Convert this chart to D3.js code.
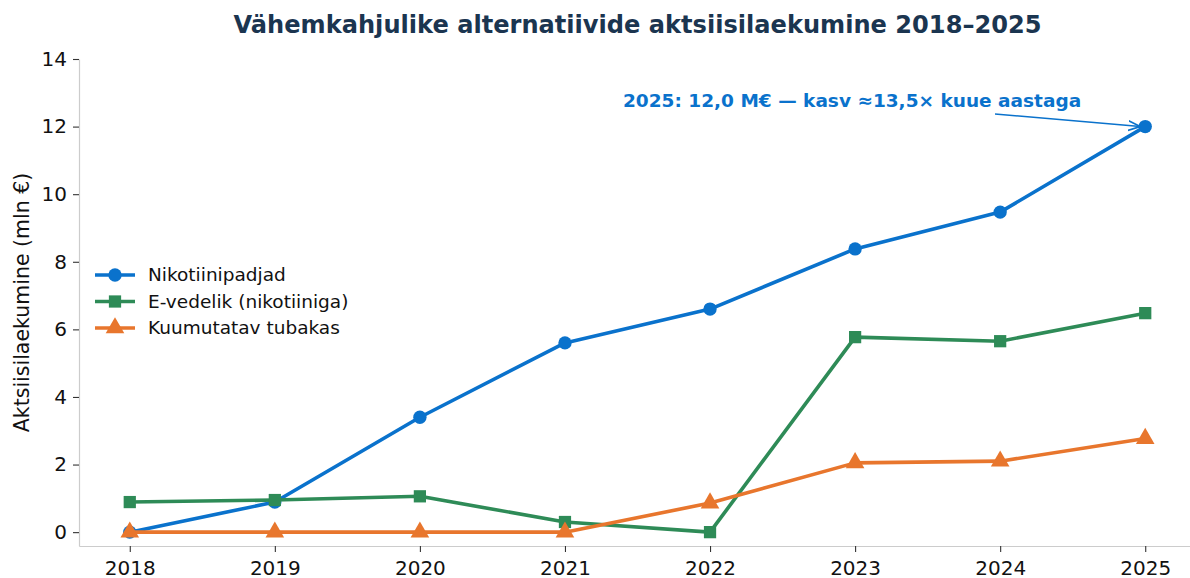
<!DOCTYPE html>
<html>
<head>
<meta charset="utf-8">
<script src="https://cdn.jsdelivr.net/npm/d3@7/dist/d3.min.js"></script>
<style>
  html, body { margin: 0; padding: 0; background: #fff; }
  svg { display: block; font-family: "DejaVu Sans", sans-serif; }
</style>
</head>
<body>
<svg id="chart" width="1190" height="578"></svg>
<script>
const years = [2018, 2019, 2020, 2021, 2022, 2023, 2024, 2025];
const seriesNames = ["Nikotiinipadjad", "E-vedelik (nikotiiniga)", "Kuumutatav tubakas"];
const nikotiinipadjad = [0.0, 0.89, 3.40, 5.60, 6.60, 8.38, 9.47, 12.0];
const eVedelik = [0.89, 0.95, 1.06, 0.30, 0.0, 5.77, 5.65, 6.48];
const kuumutatav = [0.0, 0.0, 0.0, 0.0, 0.86, 2.05, 2.10, 2.77];
const yTicks = [0, 2, 4, 6, 8, 10, 12, 14];
const titleText = "Vähemkahjulike alternatiivide aktsiisilaekumine 2018–2025";
const yLabelText = "Aktsiisilaekumine (mln €)";
const annotationText = "2025: 12,0 M€ — kasv ≈13,5× kuue aastaga";

const colors = ["#0a72cc", "#2e8b57", "#e8762d"];
const symbols = [d3.symbolCircle, d3.symbolSquare, d3.symbolTriangle];
const symSizes = [140, 150, 150];

const svg = d3.select("#chart");
const mLeft = 79, mRight = 1196, mTop = 59, mBottom = 546;

const x = d3.scaleLinear().domain([2017.65, 2025.35]).range([mLeft, mRight]);
const y = d3.scaleLinear().domain([-0.41, 14]).range([mBottom, mTop]);

// defs for arrow
svg.append("defs").append("marker")
  .attr("id", "arr").attr("viewBox", "0 0 10 10").attr("refX", 10).attr("refY", 5)
  .attr("markerWidth", 12).attr("markerHeight", 12).attr("markerUnits", "userSpaceOnUse")
  .attr("orient", "auto")
  .append("path").attr("d", "M0,1 L10,5 L0,9").attr("fill", "none")
  .attr("stroke", colors[0]).attr("stroke-width", 1.4);

// axes
const xAxis = svg.append("g").attr("transform", `translate(0,${mBottom})`)
  .call(d3.axisBottom(x).tickValues(years).tickFormat(d3.format("d")).tickSize(6).tickSizeOuter(0));
const yAxis = svg.append("g").attr("transform", `translate(${mLeft},0)`)
  .call(d3.axisLeft(y).tickValues(yTicks).tickFormat(d3.format("d")).tickSize(6).tickSizeOuter(0));
[xAxis, yAxis].forEach(g => {
  g.select(".domain").attr("stroke", "#cccccc").attr("stroke-width", 1.2);
  g.selectAll(".tick line").attr("stroke", "#333").attr("stroke-width", 1.1);
  g.selectAll(".tick text").attr("fill", "#111").attr("font-size", 20)
    .attr("font-family", "DejaVu Sans, sans-serif");
});
xAxis.selectAll(".tick text").attr("dy", "1.0em");
yAxis.selectAll(".tick text").attr("dx", "-0.15em");

// y label
svg.append("text")
  .attr("transform", `translate(29,${(mTop + mBottom) / 2}) rotate(-90)`)
  .attr("text-anchor", "middle").attr("font-size", 20.5).attr("fill", "#111")
  .text(yLabelText);

// title
svg.append("text")
  .attr("x", (mLeft + mRight) / 2).attr("y", 33)
  .attr("text-anchor", "middle").attr("font-size", 24.1).attr("font-weight", "bold")
  .attr("fill", "#1b3550").text(titleText);

// series
const allSeries = [nikotiinipadjad, eVedelik, kuumutatav];
const line = d3.line().x((d, i) => x(years[i])).y(d => y(d));
allSeries.forEach((vals, si) => {
  const g = svg.append("g");
  g.append("path").datum(vals).attr("d", line)
    .attr("fill", "none").attr("stroke", colors[si]).attr("stroke-width", 3.6)
    .attr("stroke-linejoin", "round").attr("stroke-linecap", "butt");
  g.selectAll("path.m").data(vals).enter().append("path").attr("class", "m")
    .attr("transform", (d, i) => `translate(${x(years[i])},${y(d)})`)
    .attr("d", d3.symbol().type(symbols[si]).size(symSizes[si]))
    .attr("fill", colors[si]);
});

// annotation
const annX = 623, annY = 107;
svg.append("text").attr("x", annX).attr("y", annY)
  .attr("font-size", 18.5).attr("font-weight", "bold").attr("fill", colors[0])
  .text(annotationText);
svg.append("line")
  .attr("x1", 995).attr("y1", 114)
  .attr("x2", x(2025) - 5).attr("y2", y(12))
  .attr("stroke", colors[0]).attr("stroke-width", 1.5)
  .attr("marker-end", "url(#arr)");

// legend
const legX = 95, legY0 = 275, legDy = 26.5;
seriesNames.forEach((name, i) => {
  const gy = legY0 + i * legDy;
  svg.append("line").attr("x1", legX).attr("x2", legX + 40).attr("y1", gy).attr("y2", gy)
    .attr("stroke", colors[i]).attr("stroke-width", 3.6);
  svg.append("path").attr("transform", `translate(${legX + 20},${gy})`)
    .attr("d", d3.symbol().type(symbols[i]).size(symSizes[i])).attr("fill", colors[i]);
  svg.append("text").attr("x", 148).attr("y", gy).attr("dy", "0.35em")
    .attr("font-size", 18.5).attr("fill", "#111").text(name);
});
</script>
</body>
</html>
